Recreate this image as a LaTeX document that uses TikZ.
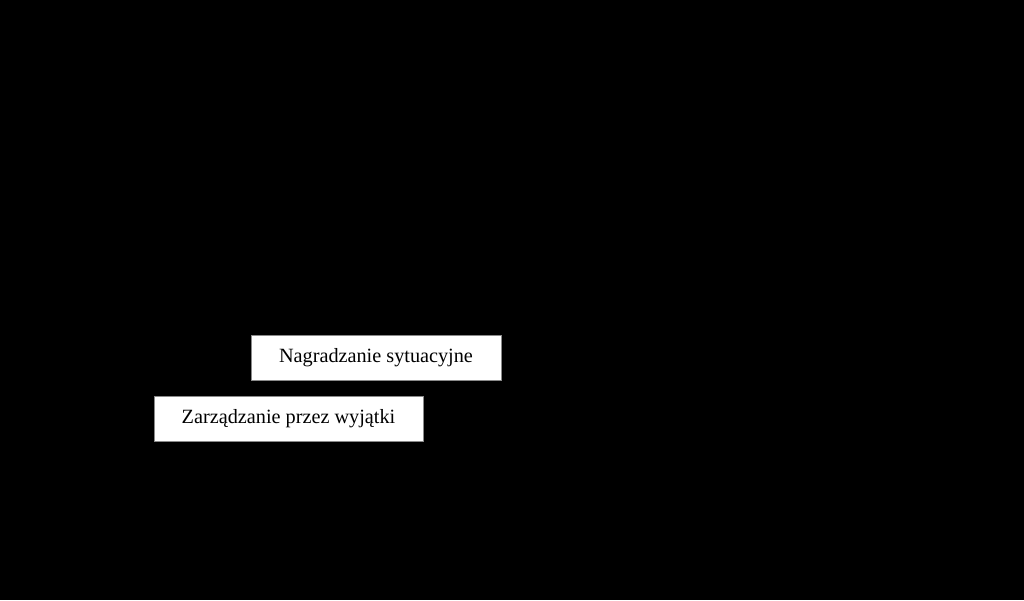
\documentclass[tikz,border=0pt]{standalone}
\usepackage{fontspec}
\setmainfont{Liberation Serif}
\usetikzlibrary{backgrounds}
\definecolor{color_stylebox_edge}{HTML}{8a8a8a}
\def\styleboxheight{1.125cm}
\begin{document}
\begin{tikzpicture}[stylebox/.style={rectangle, draw=color_stylebox_edge, line width=0.1mm, fill=white, minimum height=\styleboxheight, inner sep=0pt, font=\fontsize{14.4}{17}\selectfont}]
            % background
            \fill[black] (0,0) rectangle (25.6,15);
            \useasboundingbox (0,0) rectangle (25.6,15);
            % the two boxes
            \node[stylebox, minimum width=6.25cm] (nagradzanie) at (9.4,6.0625) {Nagradzanie sytuacyjne};
            \node[stylebox, minimum width=6.725cm] (wyjatki) at (7.2125,4.5375) {Zarządzanie przez wyjątki};
\end{tikzpicture}
\end{document}
